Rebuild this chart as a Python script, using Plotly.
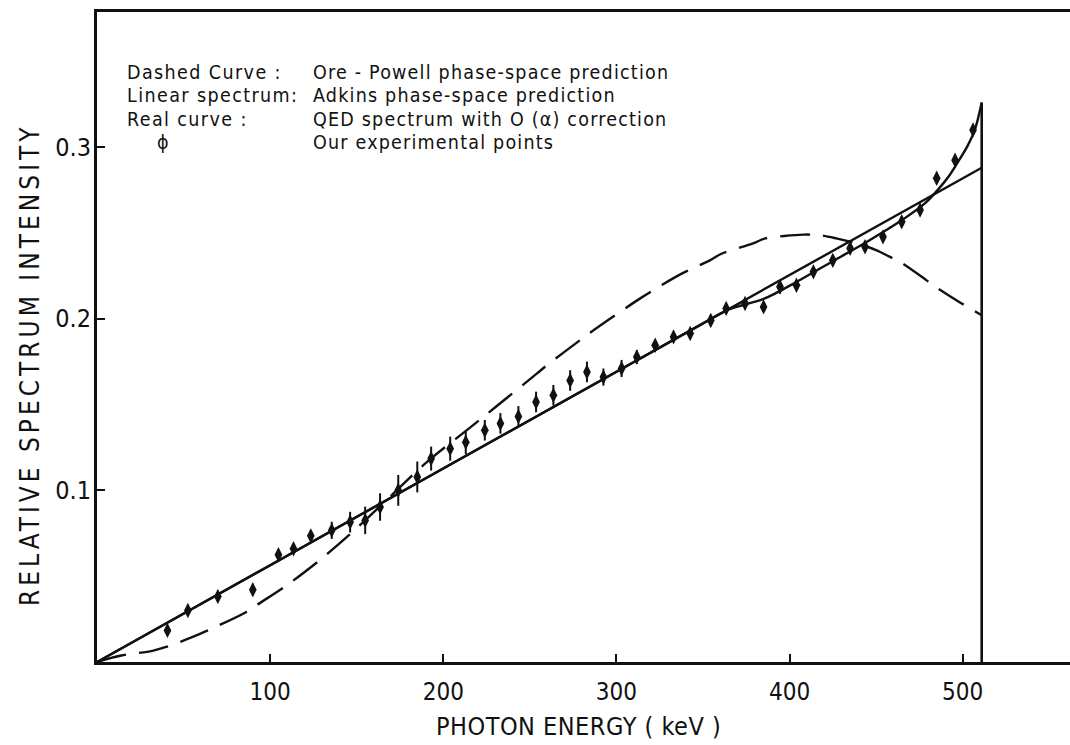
import plotly.graph_objects as go

# ---------------- data ----------------
ENDPOINT_KEV = 511

# Ore-Powell phase-space prediction (dashed curve)
ore_x = [0, 14, 32, 40, 56, 64, 86, 92, 110, 127, 133, 150, 170, 190, 216, 232, 254, 260,
         279, 285, 314, 331, 338, 354, 361, 379, 386, 397, 408, 417, 427, 440, 450, 458, 464,
         479, 483, 498, 511]
ore_y = [0, 0.0038, 0.0065, 0.0088, 0.0149, 0.0184, 0.029, 0.033, 0.045, 0.058, 0.063, 0.078,
         0.097, 0.116, 0.137, 0.150, 0.168, 0.173, 0.1875, 0.192, 0.212, 0.2225, 0.2264, 0.234,
         0.238, 0.2439, 0.2468, 0.2482, 0.249, 0.2487, 0.2468, 0.2435, 0.240, 0.236, 0.233,
         0.2225, 0.2195, 0.2098, 0.202]

# Adkins linear spectrum
lin_x = [0, 511]
lin_y = [0, 0.288]

# QED spectrum with O(alpha) correction (real curve)
qed_x = [0, 100, 200, 300, 350, 365, 385, 405, 425, 445, 465, 478, 486, 492, 498, 503, 507, 511]
qed_y = [0, 0.0564, 0.1127, 0.1691, 0.1973, 0.2055, 0.2115, 0.222, 0.2335, 0.245, 0.2575,
         0.267, 0.2755, 0.283, 0.2925, 0.301, 0.310, 0.326]

# experimental points
exp_x = [40.7, 52.5, 69.8, 90.0, 104.8, 113.5, 123.5, 135.6, 146.2, 154.9, 163.5, 174.0,
         185.0, 193.0, 204.0, 213.0, 224.0, 233.0, 243.4, 253.6, 263.6, 273.3, 283.0, 292.5,
         303.0, 311.8, 322.4, 333.0, 342.6, 354.5, 363.4, 374.3, 385.0, 394.5, 404.0, 413.8,
         425.0, 435.0, 443.6, 454.0, 464.8, 475.4, 485.0, 495.6, 506.0]
exp_y = [0.0184, 0.030, 0.0382, 0.0421, 0.0625, 0.066, 0.0735, 0.0767, 0.0815, 0.0825, 0.0903,
         0.100, 0.1078, 0.1185, 0.1243, 0.128, 0.135, 0.139, 0.1431, 0.1515, 0.1554, 0.164,
         0.169, 0.166, 0.171, 0.1777, 0.1845, 0.1894, 0.1914, 0.199, 0.206, 0.2089, 0.2069,
         0.2186, 0.2195, 0.2273, 0.234, 0.241, 0.2419, 0.2477, 0.2565, 0.2633, 0.2818, 0.2924,
         0.310]
exp_err = [0.002, 0.002, 0.002, 0.002, 0.002, 0.002, 0.003, 0.005, 0.006, 0.008, 0.008, 0.009,
           0.009, 0.007, 0.007, 0.007, 0.006, 0.006, 0.006, 0.006, 0.006, 0.006, 0.006, 0.005,
           0.005, 0.004, 0.003, 0.003, 0.003, 0.003, 0.003, 0.003, 0.003, 0.004, 0.003, 0.003,
           0.003, 0.003, 0.003, 0.003, 0.003, 0.003, 0.003, 0.003, 0.003]

x_ticks = [100, 200, 300, 400, 500]
y_ticks = [0.1, 0.2, 0.3]
y_tick_text = ["0.1", "0.2", "0.3"]

legend_left = ["Dashed Curve :", "Linear spectrum:", "Real curve :", "\u03d5"]
legend_right = ["Ore - Powell phase-space prediction",
                "Adkins phase-space prediction",
                "QED spectrum with O (\u03b1) correction",
                "Our experimental points"]

# ---------------- figure ----------------
INK = "#111111"
FONT = "DejaVu Sans Condensed, Liberation Sans Narrow, Roboto Condensed, sans-serif"

L, T, W, H = 97, 12, 973, 650


def px(xp):
    return (xp - L) / W


def py(yp):
    return 1 - (yp - T) / H


def spaced(s, ls):
    return "<span style='letter-spacing:%spx'>%s</span>" % (ls, s)


fig = go.Figure()

fig.add_trace(go.Scatter(x=ore_x, y=ore_y, mode="lines", line_shape="spline",
                         line=dict(color=INK, width=2.4, dash="30px,13px"),
                         hoverinfo="skip"))
fig.add_trace(go.Scatter(x=lin_x, y=lin_y, mode="lines",
                         line=dict(color=INK, width=2.4), hoverinfo="skip"))
fig.add_trace(go.Scatter(x=qed_x, y=qed_y, mode="lines", line_shape="spline",
                         line=dict(color=INK, width=2.4), hoverinfo="skip"))
# spectrum end-point (vertical drop at 511 keV)
fig.add_trace(go.Scatter(x=[ENDPOINT_KEV, ENDPOINT_KEV], y=[0, qed_y[-1]], mode="lines",
                         line=dict(color=INK, width=2.6), hoverinfo="skip"))
fig.add_trace(go.Scatter(x=exp_x, y=exp_y, mode="markers",
                         marker=dict(symbol="diamond-tall", size=11, color=INK),
                         error_y=dict(type="data", array=exp_err, visible=True,
                                      color=INK, thickness=2, width=0)))

# legend text block
LEG_SIZE = 19.5
line_ys = [72, 95.5, 119, 142.5]
for i in range(4):
    if i < 3:
        fig.add_annotation(x=px(125), y=py(line_ys[i]), xref="paper", yref="paper",
                           text=spaced(legend_left[i], 1.4), showarrow=False,
                           xanchor="left", yanchor="middle",
                           font=dict(family=FONT, size=LEG_SIZE, color=INK))
    else:
        fig.add_annotation(x=px(163), y=py(line_ys[i]), xref="paper", yref="paper",
                           text=legend_left[i], showarrow=False, xanchor="center",
                           yanchor="middle", font=dict(family=FONT, size=LEG_SIZE, color=INK))
    fig.add_annotation(x=px(311), y=py(line_ys[i]), xref="paper", yref="paper",
                       text=spaced(legend_right[i], 1.2), showarrow=False,
                       xanchor="left", yanchor="middle",
                       font=dict(family=FONT, size=LEG_SIZE, color=INK))

# axis titles
fig.add_annotation(x=px(578), y=py(726), xref="paper", yref="paper",
                   text=spaced("PHOTON ENERGY ( keV )", 0.5),
                   showarrow=False, xanchor="center", yanchor="middle",
                   font=dict(family=FONT, size=25, color=INK))
fig.add_annotation(x=px(30), y=py(365), xref="paper", yref="paper",
                   text=spaced("RELATIVE SPECTRUM INTENSITY", 4),
                   showarrow=False, textangle=-90, xanchor="center", yanchor="middle",
                   font=dict(family=FONT, size=26, color=INK))

fig.update_layout(
    width=1070, height=745,
    margin=dict(l=L, r=0, t=T, b=745 - T - H),
    paper_bgcolor="white", plot_bgcolor="white",
    showlegend=False,
    xaxis=dict(range=[0, 562], showgrid=False, zeroline=False,
               showline=True, linewidth=3, linecolor=INK, mirror=True,
               ticks="inside", ticklen=8, tickwidth=2, tickcolor=INK,
               tickvals=x_ticks, ticklabelstandoff=6,
               tickfont=dict(family=FONT, size=24, color=INK)),
    yaxis=dict(range=[0, 0.3787], showgrid=False, zeroline=False,
               showline=True, linewidth=3, linecolor=INK, mirror=False,
               ticks="inside", ticklen=8, tickwidth=2, tickcolor=INK,
               tickvals=y_ticks, ticktext=y_tick_text, ticklabelstandoff=-2,
               tickfont=dict(family=FONT, size=25, color=INK)),
)

fig.write_html("out.html")
